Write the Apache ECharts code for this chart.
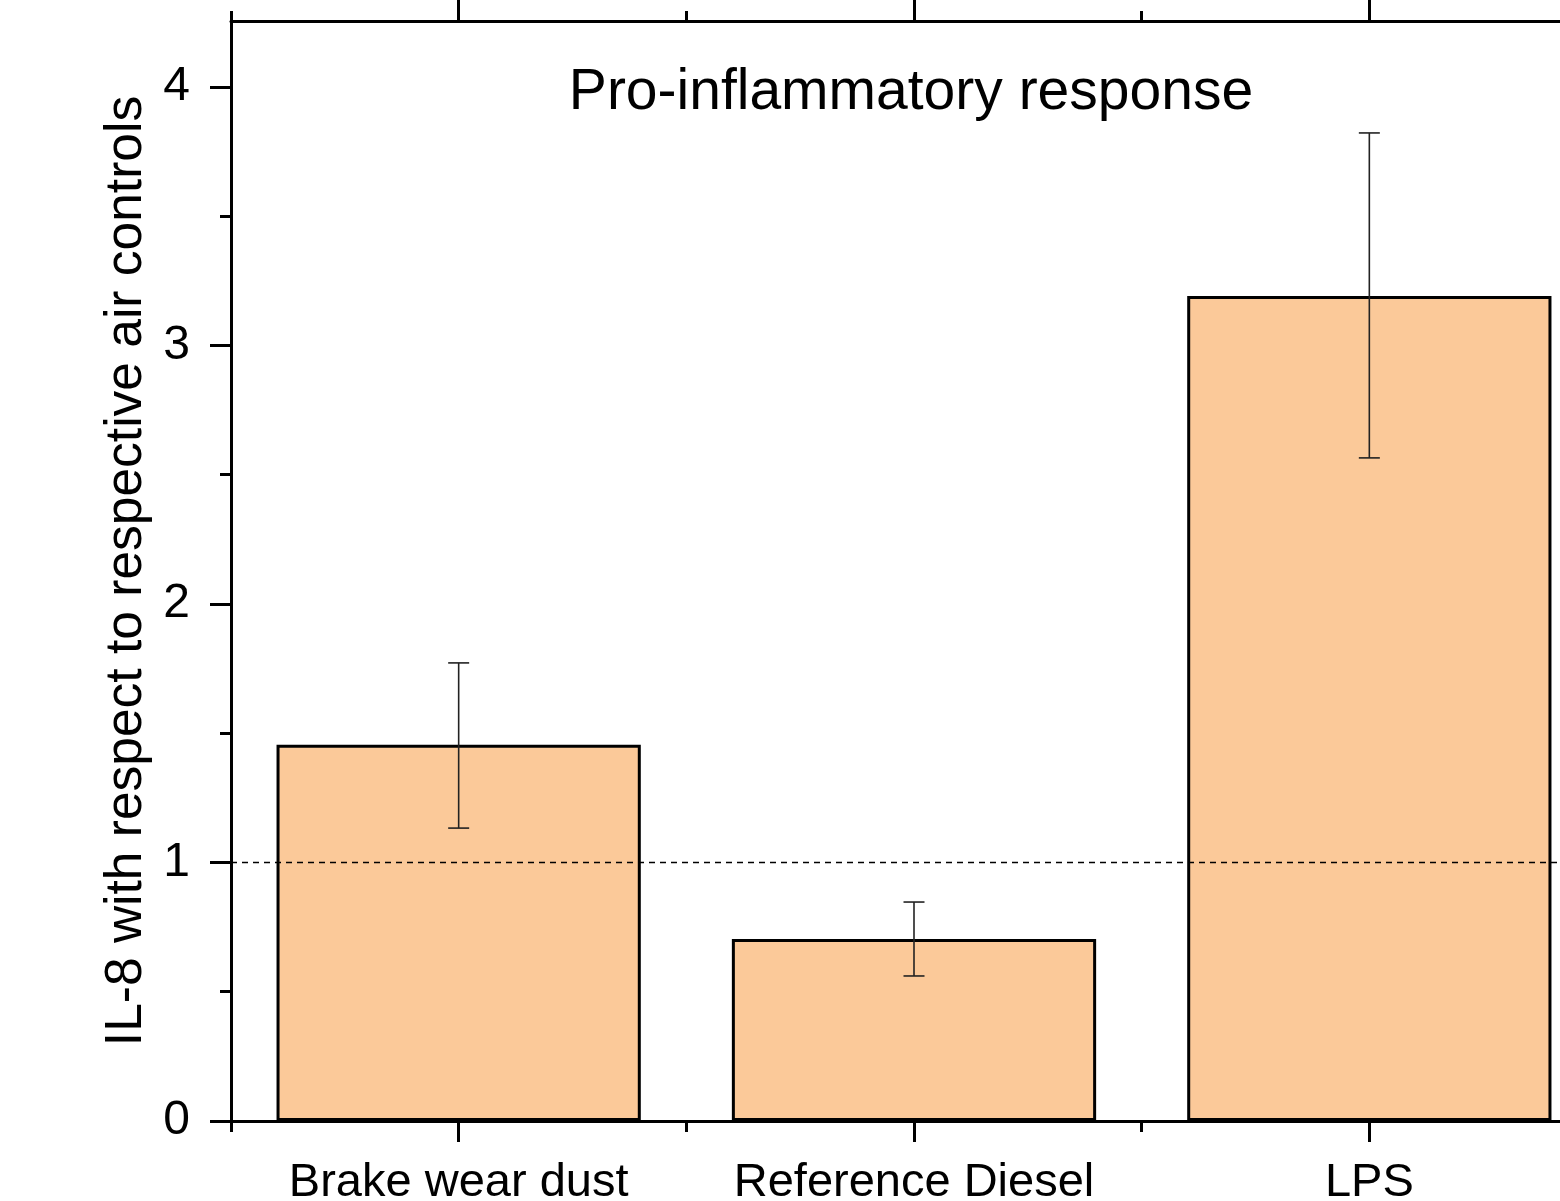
<!DOCTYPE html>
<html>
<head>
<meta charset="utf-8">
<script src="https://cdn.jsdelivr.net/npm/echarts@6/dist/echarts.min.js"></script>
<style>
html,body{margin:0;padding:0;background:#fff;overflow:hidden;}
#chart{width:1600px;height:1201px;}
</style>
</head>
<body>
<div id="chart"></div>
<script>
// ---- data ----
const categories = ['Brake wear dust', 'Reference Diesel', 'LPS'];
const meanValues = [1.455, 0.704, 3.191];
const errLow = [1.133, 0.561, 2.565];
const errHigh = [1.772, 0.847, 3.822];
const yMajorTicks = [0, 1, 2, 3, 4];
const yMinorTicks = [0.5, 1.5, 2.5, 3.5];
const referenceLevel = 1;
const chartTitle = 'Pro-inflammatory response';
const yAxisTitle = 'IL-8 with respect to respective air controls';

const FONT = 'Liberation Sans, Arial, sans-serif';
const gridPos = {left: 231, right: 3, top: 21, bottom: 80, containLabel: false, outerBoundsMode: 'none'};
const yMax = 4.255;

const chart = echarts.init(document.getElementById('chart'), null, {renderer: 'canvas'});

const errData = categories.map((c, i) => [i, errLow[i], errHigh[i]]);

const option = {
  animation: false,
  backgroundColor: '#fff',
  grid: [
    Object.assign({}, gridPos),
    Object.assign({}, gridPos)
  ],
  graphic: [{
    type: 'text',
    x: 911, y: 93,
    style: {
      text: chartTitle,
      font: '57px ' + FONT,
      fill: '#000',
      align: 'center',
      verticalAlign: 'middle'
    },
    z: 100
  }],
  xAxis: [
    {
      type: 'category', gridIndex: 0, position: 'bottom', data: categories,
      boundaryGap: true,
      axisLine: {show: true, lineStyle: {color: '#000', width: 3}},
      axisTick: {show: true, alignWithLabel: true, inside: false, length: 21, lineStyle: {color: '#000', width: 3}},
      axisLabel: {show: true, interval: 0, color: '#000', fontSize: 47, fontFamily: FONT, margin: 39},
      splitLine: {show: false}
    },
    {
      type: 'category', gridIndex: 0, position: 'top', data: categories,
      boundaryGap: true,
      axisLine: {show: true, lineStyle: {color: '#000', width: 3}},
      axisTick: {show: true, alignWithLabel: true, inside: false, length: 21, lineStyle: {color: '#000', width: 3}},
      axisLabel: {show: false},
      splitLine: {show: false}
    },
    {
      type: 'category', gridIndex: 1, position: 'bottom', data: categories,
      boundaryGap: true,
      axisLine: {show: false},
      axisTick: {show: true, alignWithLabel: false, inside: false, length: 11, lineStyle: {color: '#000', width: 3}},
      axisLabel: {show: false},
      splitLine: {show: false}
    },
    {
      type: 'category', gridIndex: 1, position: 'top', data: categories,
      boundaryGap: true,
      axisLine: {show: false},
      axisTick: {show: true, alignWithLabel: false, inside: false, length: 10, lineStyle: {color: '#000', width: 3}},
      axisLabel: {show: false},
      splitLine: {show: false}
    }
  ],
  yAxis: [
    {
      type: 'value', gridIndex: 0, position: 'left', min: 0, max: yMax,
      axisLine: {show: true, onZero: false, lineStyle: {color: '#000', width: 3}},
      axisTick: {show: true, inside: false, length: 21, customValues: yMajorTicks, lineStyle: {color: '#000', width: 3}},
      axisLabel: {show: true, customValues: yMajorTicks, color: '#000', fontSize: 48, fontFamily: FONT, margin: 41},
      splitLine: {show: false},
      name: yAxisTitle,
      nameLocation: 'middle',
      nameGap: 68,
      nameRotate: 90,
      nameTextStyle: {color: '#000', fontSize: 51.5, fontFamily: FONT}
    },
    {
      type: 'value', gridIndex: 1, position: 'left', min: 0, max: yMax,
      axisLine: {show: false},
      axisTick: {show: true, inside: false, length: 11, customValues: yMinorTicks, lineStyle: {color: '#000', width: 3}},
      axisLabel: {show: false, customValues: yMinorTicks},
      splitLine: {show: false}
    }
  ],
  series: [
    {
      type: 'bar', xAxisIndex: 0, yAxisIndex: 0,
      data: meanValues,
      barWidth: '80%',
      itemStyle: {color: '#FBC999', borderColor: '#000', borderWidth: 3},
      markLine: {
        silent: true, symbol: 'none', label: {show: false},
        lineStyle: {color: '#000', width: 1.3, type: [6, 5]},
        data: [{yAxis: referenceLevel}]
      },
      z: 2
    },
    {
      type: 'custom', xAxisIndex: 0, yAxisIndex: 0,
      data: errData,
      renderItem: function (params, api) {
        const x = api.value(0);
        const lo = api.coord([x, api.value(1)]);
        const hi = api.coord([x, api.value(2)]);
        const hw = 10.5;
        const st = {stroke: '#222', lineWidth: 1.6};
        return {
          type: 'group',
          children: [
            {type: 'line', shape: {x1: hi[0], y1: hi[1], x2: lo[0], y2: lo[1]}, style: st},
            {type: 'line', shape: {x1: hi[0] - hw, y1: hi[1], x2: hi[0] + hw, y2: hi[1]}, style: st},
            {type: 'line', shape: {x1: lo[0] - hw, y1: lo[1], x2: lo[0] + hw, y2: lo[1]}, style: st}
          ]
        };
      },
      z: 5
    }
  ]
};
chart.setOption(option);
</script>
</body>
</html>
